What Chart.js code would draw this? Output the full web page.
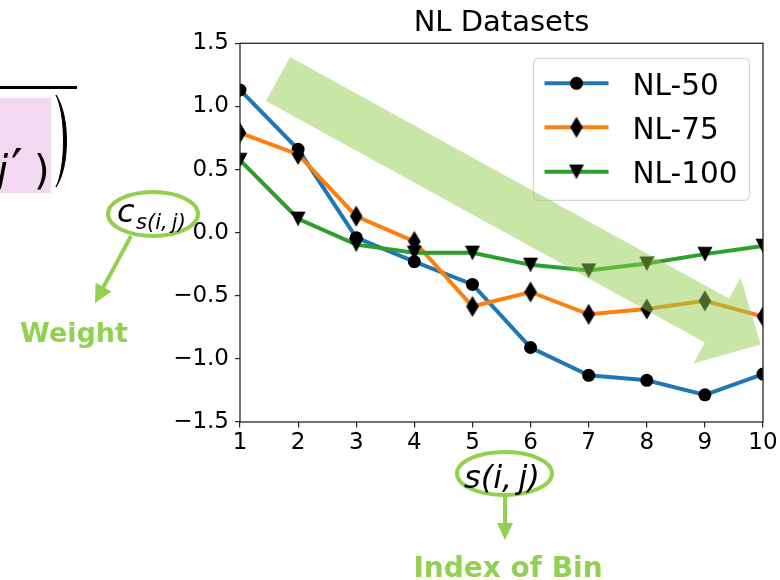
<!DOCTYPE html>
<html><head><meta charset="utf-8">
<script src="https://cdn.jsdelivr.net/npm/chart.js@4/dist/chart.umd.min.js"></script>
<style>
html,body{margin:0;padding:0;background:#fff;}
#wrap{position:relative;width:780px;height:580px;overflow:hidden;background:#fff;}
#c{position:absolute;left:0;top:0;}
#ov{position:absolute;left:0;top:0;pointer-events:none;}
</style></head><body>
<div id="wrap">
<canvas id="c" width="780" height="580"></canvas>
<svg id="ov" width="780" height="580" xmlns="http://www.w3.org/2000/svg">
  <!-- left equation fragment -->
  <line x1="0" y1="87.5" x2="77" y2="87.5" stroke="#000" stroke-width="3"/>
  <rect x="0" y="98" width="51" height="95" fill="#f2d8f0"/>
  <text font-family="DejaVu Sans" font-size="40" fill="#000"><tspan x="-3" y="184" font-style="italic">j</tspan><tspan x="11" y="186" font-size="52">′</tspan><tspan x="34" y="184">)</tspan></text>
  <path d="M56,95 C70,115 70,167 56,187 C66,167 66,115 56,95 Z" fill="#000" stroke="#000" stroke-width="1"/>
  <!-- c_s(i,j) weight annotation -->
  <ellipse cx="153" cy="214" rx="45" ry="22" fill="none" stroke="#92d050" stroke-width="4"/>
  <text font-family="DejaVu Sans" font-style="italic" fill="#000"><tspan x="117" y="222" font-size="32">c</tspan><tspan x="136" y="229" font-size="21">s(i,&#8201;j)</tspan></text>
  <line x1="131" y1="236" x2="103" y2="288" stroke="#92d050" stroke-width="4"/>
  <polygon points="95,303 111.4,291.4 95.6,282.8" fill="#92d050"/>
  <text x="74" y="342" text-anchor="middle" font-family="DejaVu Sans" font-weight="bold" font-size="27" fill="#92d050">Weight</text>
  <!-- s(i,j) bin annotation -->
  <ellipse cx="504.5" cy="473.5" rx="47.5" ry="21.5" fill="none" stroke="#92d050" stroke-width="4"/>
  <text x="502" y="488" text-anchor="middle" font-family="DejaVu Sans" font-style="italic" font-size="32" fill="#000">s(i,&#8201;j)</text>
  <line x1="505" y1="497" x2="505" y2="525" stroke="#92d050" stroke-width="4"/>
  <polygon points="497,523 513,523 505,540" fill="#92d050"/>
  <text x="508" y="577" text-anchor="middle" font-family="DejaVu Sans" font-weight="bold" font-size="28" fill="#92d050">Index of Bin</text>
  <!-- big trend arrow -->
  <polygon points="290.05,57.1 728.95,298.6 740.5,277.6 760.7,344.6 693.3,363.4 704.85,342.4 265.95,100.9" fill="#92d050" fill-opacity="0.5"/>
</svg>
</div>
<script>
const bins = [1, 2, 3, 4, 5, 6, 7, 8, 9, 10];
const nl50 = [1.13, 0.66, -0.04, -0.23, -0.41, -0.91, -1.13, -1.17, -1.285, -1.12];
const nl75 = [0.79, 0.62, 0.13, -0.07, -0.585, -0.47, -0.647, -0.605, -0.54, -0.665];
const nl100 = [0.575, 0.11, -0.095, -0.16, -0.16, -0.255, -0.30, -0.245, -0.17, -0.105];
const yTicks = [-1.5, -1.0, -0.5, 0.0, 0.5, 1.0, 1.5];
const seriesNames = ['NL-50', 'NL-75', 'NL-100'];
const seriesColors = ['#1f77b4', '#ff7f0e', '#2ca02c'];
const chartTitle = 'NL Datasets';

function diamondImg() {
  const c = document.createElement('canvas'); c.width = 14; c.height = 22;
  const x = c.getContext('2d'); x.fillStyle = '#000';
  x.beginPath(); x.moveTo(7, 0.5); x.lineTo(13.3, 11); x.lineTo(7, 21.5); x.lineTo(0.7, 11); x.closePath(); x.fill();
  return c;
}
function triImg() {
  const c = document.createElement('canvas'); c.width = 16; c.height = 16;
  const x = c.getContext('2d'); x.fillStyle = '#000';
  x.beginPath(); x.moveTo(0.5, 0.8); x.lineTo(15.5, 0.8); x.lineTo(8, 15.5); x.closePath(); x.fill();
  return c;
}
const markers = ['circle', diamondImg(), triImg()];
const seriesData = [nl50, nl75, nl100];

const datasets = seriesData.map((vals, i) => ({
  label: seriesNames[i],
  data: bins.map((b, k) => ({x: b, y: vals[k]})),
  borderColor: seriesColors[i],
  backgroundColor: '#000',
  borderWidth: 4,
  pointStyle: markers[i],
  pointRadius: 6.5,
  pointBorderWidth: 0,
  pointBackgroundColor: '#000',
  tension: 0,
  clip: 0,
  order: 3 - i
}));

const fmt = v => (v < 0 ? '\u2212' : '') + Math.abs(v).toFixed(1);

const framePlugin = {
  id: 'frameLegend',
  afterDatasetsDraw(chart) {
    const ctx = chart.ctx, a = chart.chartArea;
    ctx.save();
    ctx.strokeStyle = '#262626'; ctx.lineWidth = 1.3;
    ctx.strokeRect(a.left, a.top, a.right - a.left, a.bottom - a.top);
    // legend
    const w = 216, h = 142;
    const lx = a.right - 13.5 - w, ly = a.top + 15;
    ctx.beginPath();
    if (ctx.roundRect) ctx.roundRect(lx, ly, w, h, 5); else ctx.rect(lx, ly, w, h);
    ctx.fillStyle = 'rgba(255,255,255,0.8)'; ctx.fill();
    ctx.strokeStyle = '#d6d6d6'; ctx.lineWidth = 1.2; ctx.stroke();
    const rows = [25, 69, 113.4];
    ctx.font = '29.5px "DejaVu Sans"'; ctx.textBaseline = 'alphabetic'; ctx.textAlign = 'left';
    rows.forEach((ry, i) => {
      const cy = ly + ry;
      ctx.strokeStyle = seriesColors[i]; ctx.lineWidth = 4; ctx.lineCap = 'butt';
      ctx.beginPath(); ctx.moveTo(lx + 11, cy); ctx.lineTo(lx + 75, cy); ctx.stroke();
      const m = markers[i];
      if (m === 'circle') {
        ctx.fillStyle = '#000'; ctx.beginPath(); ctx.arc(lx + 43, cy, 6.5, 0, Math.PI * 2); ctx.fill();
      } else {
        ctx.drawImage(m, lx + 43 - m.width / 2, cy - m.height / 2);
      }
      ctx.fillStyle = '#000';
      ctx.fillText(seriesNames[i], lx + 99, cy + 11.5);
    });
    ctx.restore();
  }
};

new Chart(document.getElementById('c'), {
  type: 'line',
  data: {datasets},
  options: {
    responsive: false,
    devicePixelRatio: 1,
    animation: false,
    events: [],
    layout: {padding: {left: 0, right: 17, top: 0, bottom: 0}},
    plugins: {
      legend: {display: false},
      tooltip: {enabled: false},
      title: {
        display: true, text: chartTitle, fullSize: false, color: '#000',
        font: {family: 'DejaVu Sans', size: 29, weight: 'normal', lineHeight: 1},
        padding: {top: 9, bottom: 5.3}
      }
    },
    scales: {
      x: {
        type: 'linear', min: bins[0], max: bins[bins.length - 1],
        afterFit: s => { s.height = 158; },
        afterBuildTicks: s => { s.ticks = bins.map(v => ({value: v})); },
        grid: {display: true, drawOnChartArea: false, drawTicks: true, tickLength: 5.5, color: '#262626', lineWidth: 1.2},
        border: {display: false},
        ticks: {color: '#000', font: {family: 'DejaVu Sans', size: 23}, padding: 2, maxRotation: 0, autoSkip: false,
          callback: v => String(v)}
      },
      y: {
        type: 'linear', min: yTicks[0], max: yTicks[yTicks.length - 1],
        afterFit: s => { s.width = 240; },
        afterBuildTicks: s => { s.ticks = yTicks.map(v => ({value: v})); },
        grid: {display: true, drawOnChartArea: false, drawTicks: true, tickLength: 5, color: '#262626', lineWidth: 1.2},
        border: {display: false},
        ticks: {color: '#000', font: {family: 'DejaVu Sans', size: 23}, padding: 6, callback: v => fmt(v)}
      }
    }
  },
  plugins: [framePlugin]
});
</script>
</body></html>
